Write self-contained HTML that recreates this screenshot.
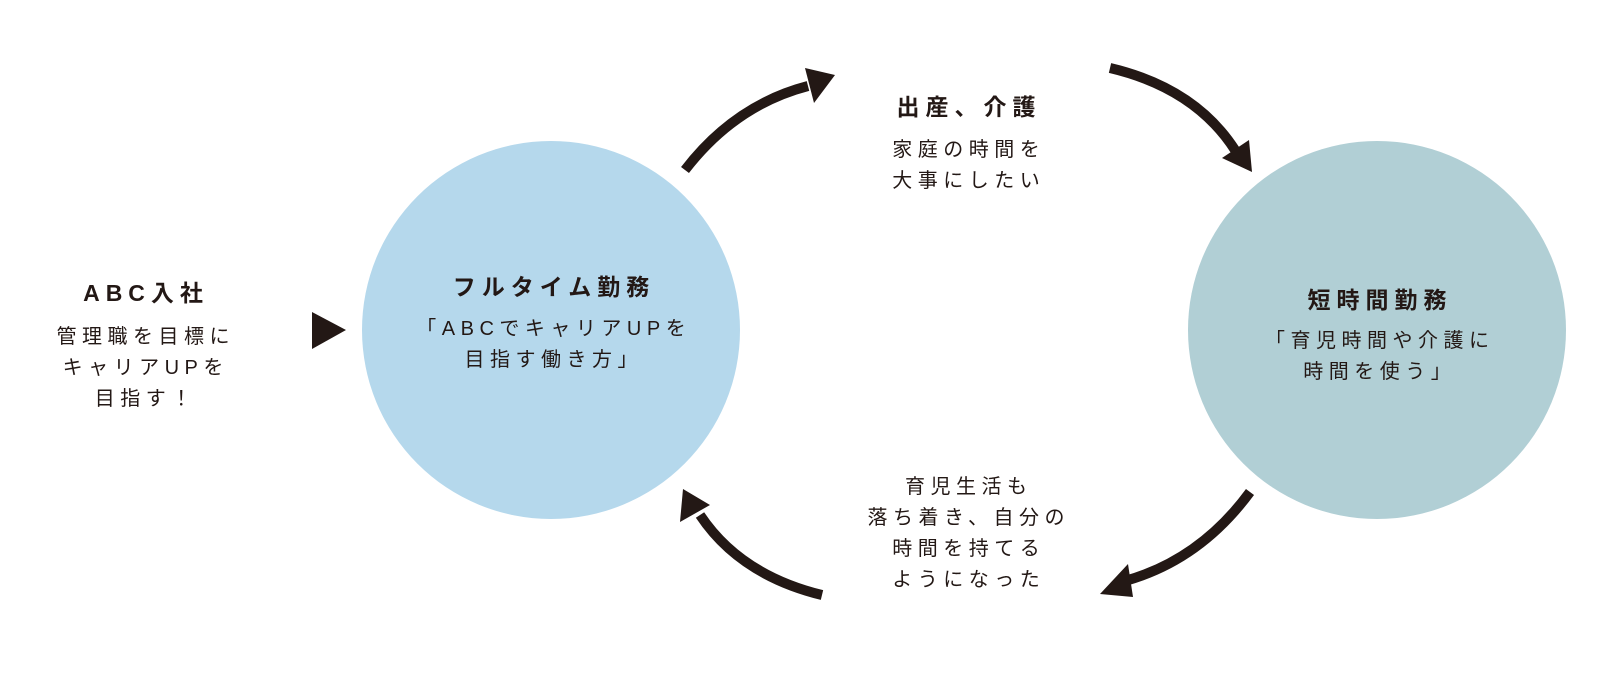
<!DOCTYPE html>
<html><head><meta charset="utf-8"><style>
body{margin:0;width:1622px;height:689px;background:#fff;position:relative;overflow:hidden;font-family:"Liberation Sans","Noto Sans CJK JP",sans-serif;color:#231815}
.t{position:absolute;text-align:center;transform:translateX(-50%);white-space:nowrap}
.h{font-weight:bold;font-size:23px;letter-spacing:6px;padding-left:6px}
.b{font-size:20px;letter-spacing:5.5px;padding-left:5.5px;line-height:31px}
</style></head><body>
<svg width="1622" height="689" style="position:absolute;left:0;top:0">
<circle cx="551" cy="330" r="189" fill="#b5d8ec"/>
<circle cx="1377" cy="330" r="189" fill="#b1cfd5"/>
<g fill="none" stroke="#231815" stroke-width="10">
<path d="M685 170 Q735 105 808 86"/>
<path d="M1110 68 Q1195 88 1235 150"/>
<path d="M1250 492 Q1200 560 1125 581"/>
<path d="M822 595 Q740 575 700 515"/>
</g>
<g fill="#231815">
<polygon points="805,68 835,75 814,103"/>
<polygon points="1222,158 1252,172 1249,140"/>
<polygon points="1128,564 1100,594 1133,597"/>
<polygon points="680,522 683,489 710,505"/>
<polygon points="312,312 346,330 312,349"/>
</g>
</svg>
<div class="t h" style="left:143px;top:274px">ABC入社</div>
<div class="t b" style="left:143px;top:322px">管理職を目標に<br>キャリアUPを<br>目指す！</div>
<div class="t h" style="left:551px;top:268px">フルタイム勤務</div>
<div class="t b" style="left:551px;top:314px">「ABCでキャリアUPを<br>目指す働き方」</div>
<div class="t h" style="left:966px;top:88px">出産、介護</div>
<div class="t b" style="left:966px;top:135px">家庭の時間を<br>大事にしたい</div>
<div class="t h" style="left:1377px;top:281px">短時間勤務</div>
<div class="t b" style="left:1377px;top:326px">「育児時間や介護に<br>時間を使う」</div>
<div class="t b" style="left:966px;top:472px">育児生活も<br>落ち着き、自分の<br>時間を持てる<br>ようになった</div>
</body></html>
